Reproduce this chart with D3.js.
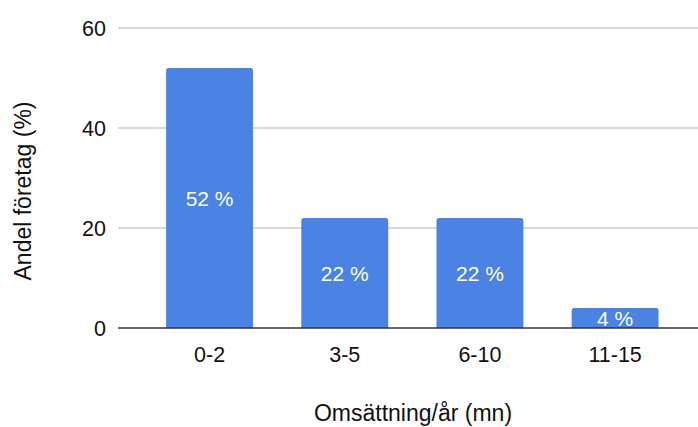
<!DOCTYPE html>
<html>
<head>
<meta charset="utf-8">
<script src="https://cdn.jsdelivr.net/npm/d3@7"></script>
<style>
  html, body { margin: 0; padding: 0; background: #fff; }
  svg { display: block; font-family: "Liberation Sans", Arial, sans-serif; }
</style>
</head>
<body>
<svg id="chart" width="698" height="427"></svg>
<script>
const categories = ["0-2", "3-5", "6-10", "11-15"];
const values = [52, 22, 22, 4];
const yTicks = [0, 20, 40, 60];
const xTitle = "Omsättning/år (mn)";
const yTitle = "Andel företag (%)";

const svg = d3.select("#chart");
const plotLeft = 118, plotRight = 698, plotTop = 28, plotBottom = 328;

const x = d3.scaleBand().domain(categories).range([142, 682.7]).paddingInner(0.357).paddingOuter(0.1785);
const y = d3.scaleLinear().domain([0, 60]).range([plotBottom, plotTop]);

// gridlines
svg.append("g").selectAll("line").data(yTicks.filter(d => d !== 0)).join("line")
  .attr("x1", plotLeft).attr("x2", plotRight)
  .attr("y1", d => y(d)).attr("y2", d => y(d))
  .attr("stroke", "#cccccc").attr("stroke-width", 1.3);

// y tick labels
svg.append("g").selectAll("text").data(yTicks).join("text")
  .attr("x", 106).attr("y", d => y(d)).attr("dy", "0.35em")
  .attr("text-anchor", "end").attr("font-size", 21.5).attr("fill", "#111")
  .text(d => d);

// bars
const r = 2.5;
svg.append("g").selectAll("path").data(values).join("path")
  .attr("fill", "#4a83e4")
  .attr("d", (d, i) => {
    const x0 = x(categories[i]), w = x.bandwidth(), y0 = y(d), y1 = y(0);
    return `M${x0},${y1}V${y0 + r}Q${x0},${y0} ${x0 + r},${y0}H${x0 + w - r}Q${x0 + w},${y0} ${x0 + w},${y0 + r}V${y1}Z`;
  });

// zero line
svg.append("line").attr("x1", plotLeft).attr("x2", plotRight)
  .attr("y1", y(0)).attr("y2", y(0)).attr("stroke", "#333").attr("stroke-width", 1.5);

// data labels
svg.append("g").selectAll("text").data(values).join("text")
  .attr("x", (d, i) => x(categories[i]) + x.bandwidth() / 2)
  .attr("y", d => (y(d) + y(0)) / 2 + 1).attr("dy", "0.35em")
  .attr("text-anchor", "middle").attr("font-size", 21).attr("fill", "#fff")
  .text(d => d + " %");

// x tick labels
svg.append("g").selectAll("text").data(categories).join("text")
  .attr("x", d => x(d) + x.bandwidth() / 2).attr("y", 354).attr("dy", "0.35em")
  .attr("text-anchor", "middle").attr("font-size", 21.5).attr("fill", "#111")
  .text(d => d);

// axis titles
svg.append("text").attr("x", 413).attr("y", 413).attr("dy", "0.35em")
  .attr("text-anchor", "middle").attr("font-size", 23).attr("fill", "#111").text(xTitle);
svg.append("text").attr("transform", "translate(23,191) rotate(-90)").attr("dy", "0.35em")
  .attr("text-anchor", "middle").attr("font-size", 23).attr("fill", "#111").text(yTitle);
</script>
</body>
</html>
